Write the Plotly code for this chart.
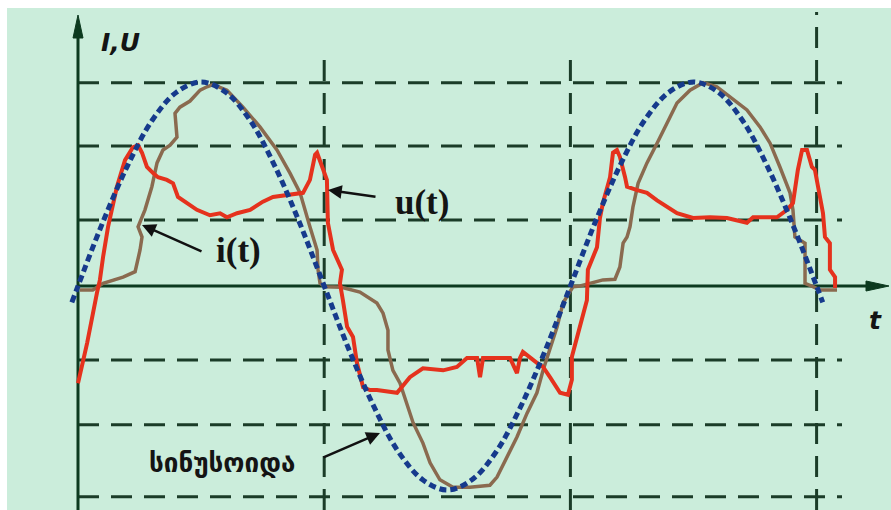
import plotly.graph_objects as go

# ---- data (t in ms, values in grid units) ----
sine_t = [-0.25, 0, 1, 2, 3, 4, 5, 6, 7, 8, 9, 10, 11, 12, 13, 14, 15, 16, 17, 18, 19, 20,
          21, 22, 23, 24, 25, 26, 27, 28, 29, 30, 30.25]
sine_v = [-0.24, 0, 0.93, 1.76, 2.43, 2.85, 3.0, 2.85, 2.43, 1.76, 0.93, 0, -0.93, -1.76, -2.43,
          -2.85, -3.0, -2.85, -2.43, -1.76, -0.93, 0, 0.93, 1.76, 2.43, 2.85, 3.0, 2.85, 2.43,
          1.76, 0.93, 0, -0.24]

u_t = [0.08, 0.6, 1.02, 1.83, 2.32, 2.52, 2.60, 2.44, 2.72, 3.0, 3.21, 3.45, 3.74, 4.02, 3.94,
       4.14, 4.55, 4.96, 5.24, 5.48, 6.05, 6.70, 7.39, 8.08, 8.61, 9.02, 9.42, 9.71, 9.75, 9.83,
       10.03, 10.7, 11.45, 12.14, 12.39, 12.59, 12.59, 12.79, 13.08, 13.36, 13.61, 14.01, 14.30,
       14.70, 15.23, 15.92, 16.73, 17.02, 17.42, 17.83, 18.24, 18.64, 18.89, 19.17, 19.46, 19.70,
       20.11, 20.4, 20.79, 21.32, 21.81, 22.01, 22.14, 22.30, 22.42, 22.54, 22.75, 23.11, 23.52,
       23.92, 24.33, 24.86, 25.39, 25.95, 26.48, 27.17, 27.70, 28.11, 28.51, 28.92, 29.04, 29.12,
       29.53, 29.53, 29.85, 30.14, 30.83]
u_v = [-0.06, -0.06, 0.04, 0.13, 0.21, 0.53, 0.72, 0.87, 1.12, 1.46, 1.81, 2.00, 2.07, 2.19, 2.54,
       2.63, 2.72, 2.88, 2.93, 2.96, 2.88, 2.63, 2.34, 2.00, 1.66, 1.37, 0.87, 0.53, 0.24, 0.04,
       -0.01, -0.02, -0.09, -0.25, -0.40, -0.65, -0.94, -1.24, -1.43, -1.72, -2.01, -2.31, -2.60,
       -2.85, -2.96, -2.96, -2.93, -2.81, -2.51, -2.22, -1.87, -1.57, -1.24, -0.94, -0.60, -0.25,
       -0.01, 0.0, 0.04, 0.09, 0.10, 0.28, 0.63, 0.72, 0.87, 1.16, 1.51, 1.81, 2.10, 2.40, 2.69,
       2.88, 2.99, 2.93, 2.78, 2.59, 2.34, 2.10, 1.75, 1.37, 1.12, 0.72, 0.63, 0.04, -0.01, -0.06,
       -0.06]

i_t = [0.0, 0.37, 0.77, 0.89, 1.02, 1.22, 1.58, 1.91, 2.23, 2.44, 2.60, 2.80, 3.05, 3.25, 3.61,
       3.86, 4.06, 4.43, 4.83, 5.36, 5.77, 6.05, 6.46, 6.99, 7.51, 7.92, 8.49, 9.14, 9.42, 9.63,
       9.71, 9.91, 10.11, 10.15, 10.36, 10.72, 10.64, 10.76, 10.93, 11.17, 11.33, 11.58, 11.86,
       12.14, 12.96, 13.48, 14.01, 14.83, 15.39, 15.80, 16.21, 16.33, 16.45, 17.55, 17.83, 17.95,
       18.07, 18.64, 18.89, 19.17, 19.58, 19.90, 20.06, 20.06, 20.27, 20.39, 20.67, 20.71, 21.08,
       21.20, 21.32, 21.61, 21.73, 21.89, 22.01, 22.22, 22.30, 22.71, 23.11, 23.52, 23.92, 24.33,
       24.98, 25.67, 26.36, 27.17, 27.42, 27.99, 28.39, 28.80, 29.04, 29.24, 29.41, 29.61, 29.81,
       29.93, 30.14, 30.26, 30.34, 30.54, 30.54, 30.75, 30.75]
i_v = [-1.43, -0.84, -0.10, 0.09, 0.43, 0.87, 1.46, 1.85, 2.04, 2.07, 1.96, 1.75, 1.66, 1.60, 1.56,
       1.51, 1.31, 1.22, 1.12, 1.04, 1.07, 1.01, 1.07, 1.12, 1.24, 1.31, 1.34, 1.37, 1.56, 1.93,
       1.96, 1.75, 1.56, 0.93, 0.53, 0.24, 0.04, -0.21, -0.60, -0.75, -1.13, -1.49, -1.53,
       -1.53, -1.57, -1.34, -1.21, -1.24, -1.19, -1.06, -1.06, -1.34, -1.06, -1.06, -1.28, -1.06,
       -0.97, -1.13, -1.19, -1.34, -1.57, -1.60, -1.38, -1.04, -0.75, -0.60, -0.21, 0.24, 0.57,
       1.00, 1.22, 1.60, 1.96, 2.00, 1.90, 1.60, 1.46, 1.41, 1.37, 1.26, 1.16, 1.07,
       1.00, 1.01, 1.00, 0.93, 1.01, 1.01, 1.01, 1.12, 1.22, 1.71, 2.00, 2.00, 1.75,
       1.71, 1.31, 1.07, 0.72, 0.63, 0.24, 0.13, -0.03]

h_grid = [2.99, 2.06, 0.97, -1.09, -2.04, -3.10]
v_grid = [10, 20, 30]
v_grid_top = [3.50, 3.50, 4.03]

label_i = "i(t)"
label_u = "u(t)"
label_sin = "სინუსოიდა"
label_y = "I,U"
label_x = "t"

# ---- geometry ----
W, H = 891, 510
X0PX, XS = 78, 24.62      # pixel of t=0, px per ms
Y0PX, YS = 286, 68        # pixel of v=0, px per unit
xr = [(0 - X0PX) / XS, (W - X0PX) / XS]
yr = [(Y0PX - H) / YS, Y0PX / YS]

def px_t(px):
    return (px - X0PX) / XS

def px_v(py):
    return (Y0PX - py) / YS

BG = "#cbeddb"
GRID = "#1b3c28"
AXC = "#0c3a1f"

fig = go.Figure()

shapes = []
shapes.append(dict(type="rect", xref="paper", yref="paper", x0=7 / W, x1=1, y0=0, y1=1 - 8 / H,
                   fillcolor=BG, line=dict(width=0), layer="below"))
for g in h_grid:
    shapes.append(dict(type="line", xref="x", yref="y", x0=0, x1=px_t(842), y0=g, y1=g,
                       line=dict(color=GRID, width=3, dash="21px,12px"), layer="below"))
for g, top in zip(v_grid, v_grid_top):
    shapes.append(dict(type="line", xref="x", yref="y", x0=g, x1=g, y0=yr[0], y1=top,
                       line=dict(color=GRID, width=3, dash="21px,12px"), layer="below"))
# axes
shapes.append(dict(type="line", xref="x", yref="y", x0=0, x1=0, y0=yr[0], y1=px_v(36),
                   line=dict(color=AXC, width=3), layer="below"))
shapes.append(dict(type="line", xref="x", yref="y", x0=0, x1=px_t(872), y0=0, y1=0,
                   line=dict(color=AXC, width=3), layer="below"))
# arrowheads
shapes.append(dict(type="path", xref="x", yref="y",
                   path=f"M {px_t(73)} {px_v(38)} L {px_t(78)} {px_v(15)} L {px_t(83)} {px_v(38)} Z",
                   fillcolor=AXC, line=dict(color=AXC, width=1), layer="below"))
shapes.append(dict(type="path", xref="x", yref="y",
                   path=f"M {px_t(866)} {px_v(281)} L {px_t(889)} {px_v(286)} L {px_t(866)} {px_v(291)} Z",
                   fillcolor=AXC, line=dict(color=AXC, width=1), layer="below"))

fig.add_trace(go.Scatter(x=u_t, y=u_v, mode="lines", line=dict(color="#8a6a4f", width=3.5),
                         hoverinfo="skip"))
fig.add_trace(go.Scatter(x=i_t, y=i_v, mode="lines", line=dict(color="#e5321d", width=4),
                         hoverinfo="skip"))
fig.add_trace(go.Scatter(x=sine_t, y=sine_v, mode="lines", line_shape="spline",
                         line=dict(color="#163a8c", width=5, dash="7px,4px"), hoverinfo="skip"))

def P(px, py):
    return px / W, 1 - py / H

annotations = []
def label(text, px, py, size, family, italic=False):
    x, y = P(px, py)
    annotations.append(dict(text=text, x=x, y=y, xref="paper", yref="paper", showarrow=False,
                            xanchor="center", yanchor="middle",
                            font=dict(size=size, family=family, color="#141414",
                                      weight="bold", style="italic" if italic else "normal")))

def arrow(hx, hy, tx, ty):
    x, y = P(hx, hy)
    annotations.append(dict(text="", x=x, y=y, xref="paper", yref="paper", showarrow=True,
                            ax=tx - hx, ay=ty - hy, arrowhead=2, arrowsize=1.1, arrowwidth=2.5,
                            arrowcolor="#111111", standoff=0, startstandoff=0))

label(label_y, 120, 42, 25, "DejaVu Sans", italic=True)
label(label_x, 875, 320, 25, "DejaVu Sans", italic=True)
label(label_u, 422, 203, 35, "Liberation Serif")
label(label_i, 238, 250, 35, "Liberation Serif")
label(label_sin, 222, 463, 26, "DejaVu Sans")
arrow(328, 190, 377, 197)
arrow(142, 225, 203, 252)
arrow(380, 433, 322, 458)

fig.update_layout(
    width=W, height=H, margin=dict(l=0, r=0, t=0, b=0),
    paper_bgcolor="white", plot_bgcolor="white", showlegend=False,
    xaxis=dict(range=xr, visible=False, fixedrange=True),
    yaxis=dict(range=yr, visible=False, fixedrange=True),
    shapes=shapes, annotations=annotations,
)

fig.write_html("out.html", config={"displayModeBar": False})
